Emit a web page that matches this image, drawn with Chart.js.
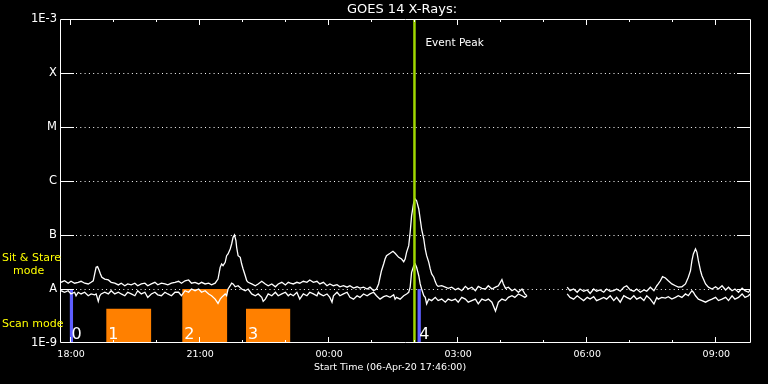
<!DOCTYPE html>
<html><head><meta charset="utf-8">
<script src="https://cdn.jsdelivr.net/npm/chart.js@4/dist/chart.umd.min.js"></script>
<style>html,body{margin:0;padding:0;background:#000;overflow:hidden}canvas{display:block}</style>
</head><body><canvas id="c" width="768" height="384"></canvas>
<script>
// ---------- DATA (time = minutes after 06-Apr-20 17:46:00, flux in W/m^2) ----------
const chartTitle = 'GOES 14 X-Rays:';
const xAxisTitle = 'Start Time (06-Apr-20 17:46:00)';
const eventLabel = 'Event Peak';
const modeLabelStare = ['Sit & Stare', 'mode'];
const modeLabelScan = 'Scan mode';

const xTickValues = [14, 194, 374, 554, 734, 914];
const xTickLabels = ['18:00', '21:00', '00:00', '03:00', '06:00', '09:00'];
const xMinorTickValues = [74, 134, 254, 314, 434, 494, 614, 674, 794, 854];
const yTickValues = [1e-9, 1e-8, 1e-7, 1e-6, 1e-5, 1e-4, 1e-3];
const yTickLabels = ['1E-9', 'A', 'B', 'C', 'M', 'X', '1E-3'];
const yGridValues = [1e-8, 1e-7, 1e-6, 1e-5, 1e-4];

const eventPeakTime = 493;

const barStart = [12, 63, 169, 258, 497];
const barEnd   = [17, 126, 232, 320, 502];
const barTop   = [1e-8, 4.3e-9, 1e-8, 4.3e-9, 1e-8];
const barNames = ['0', '1', '2', '3', '4'];

// long channel (upper curve)
const longChannel = [
[0,1.33e-8],[5,1.42e-8],[10,1.28e-8],[14,1.39e-8],[19,1.28e-8],[24,1.33e-8],[28,1.39e-8],[33,1.28e-8],[38,1.24e-8],[42,1.33e-8],
[45,1.42e-8],[47,1.90e-8],[49,2.52e-8],[51,2.59e-8],[53,2.25e-8],[55,1.90e-8],[57,1.65e-8],[61,1.53e-8],[66,1.47e-8],[70,1.33e-8],
[75,1.28e-8],[80,1.19e-8],[84,1.28e-8],[89,1.15e-8],[93,1.24e-8],[98,1.19e-8],[103,1.28e-8],[107,1.15e-8],[112,1.24e-8],[117,1.28e-8],
[121,1.15e-8],[126,1.24e-8],[131,1.33e-8],[135,1.20e-8],[140,1.28e-8],[145,1.24e-8],[149,1.19e-8],[154,1.28e-8],[159,1.33e-8],[164,1.39e-8],
[168,1.28e-8],[173,1.42e-8],[178,1.47e-8],[182,1.28e-8],[187,1.33e-8],[192,1.24e-8],[196,1.33e-8],[201,1.24e-8],[206,1.28e-8],[210,1.20e-8],
[215,1.28e-8],[219,1.53e-8],[222,2.52e-8],[224,2.90e-8],[226,2.70e-8],[229,3.12e-8],[231,4.14e-8],[233,4.45e-8],[236,5.51e-8],[238,6.81e-8],
[240,9.06e-8],[242,1.0e-7],[244,7.84e-8],[245,5.92e-8],[247,4.14e-8],[250,3.86e-8],[252,2.90e-8],[254,2.35e-8],[257,1.76e-8],[259,1.42e-8],
[261,1.33e-8],[266,1.24e-8],[271,1.15e-8],[275,1.24e-8],[280,1.39e-8],[285,1.24e-8],[289,1.15e-8],[294,1.24e-8],[299,1.10e-8],[303,1.24e-8],
[308,1.33e-8],[313,1.19e-8],[317,1.33e-8],[320,1.28e-8],[324,1.24e-8],[329,1.33e-8],[333,1.28e-8],[338,1.39e-8],[343,1.33e-8],[347,1.47e-8],
[352,1.33e-8],[357,1.39e-8],[361,1.24e-8],[366,1.33e-8],[371,1.15e-8],[375,1.24e-8],[380,1.15e-8],[385,1.20e-8],[389,1.10e-8],[394,1.15e-8],
[399,1.08e-8],[403,1.15e-8],[408,1.04e-8],[413,1.10e-8],[417,1.04e-8],[422,1.08e-8],[427,1.00e-8],[431,1.08e-8],[436,9.3e-9],[440,1.00e-8],
[443,1.24e-8],[445,1.65e-8],[447,2.18e-8],[450,2.90e-8],[452,3.59e-8],[454,4.14e-8],[459,4.58e-8],[463,4.99e-8],[466,4.58e-8],[471,3.86e-8],
[475,3.59e-8],[478,3.20e-8],[480,3.59e-8],[482,4.78e-8],[485,6.34e-8],[487,1.12e-7],[489,2.28e-7],[492,4.03e-7],[494,4.64e-7],[496,4.32e-7],
[499,3.03e-7],[501,1.98e-7],[503,1.29e-7],[506,8.43e-8],[508,5.51e-8],[510,4.14e-8],[513,3.12e-8],[515,2.35e-8],[517,1.90e-8],[520,1.65e-8],
[522,1.37e-8],[524,1.19e-8],[526,1.12e-8],[531,1.15e-8],[536,1.08e-8],[540,1.03e-8],[545,1.08e-8],[550,9.7e-9],[554,1.03e-8],[559,9.3e-9],
[564,1.12e-8],[568,1.00e-8],[573,1.08e-8],[578,9.3e-9],[582,1.12e-8],[587,1.03e-8],[592,1.00e-8],[596,1.15e-8],[601,1.00e-8],[606,1.08e-8],
[610,1.15e-8],[615,1.49e-8],[617,1.24e-8],[620,1.03e-8],[624,1.08e-8],[629,9.3e-9],[633,1.00e-8],[638,8.7e-9],[643,1.00e-8],[647,8.1e-9],
[650,7.5e-9],[680,null],
[706,1.08e-8],[710,9.3e-9],[715,1.00e-8],[720,8.7e-9],[724,1.00e-8],[729,9.1e-9],[734,9.6e-9],[738,8.3e-9],[743,1.00e-8],[747,9.1e-9],
[752,9.6e-9],[757,8.7e-9],[761,1.00e-8],[766,9.1e-9],[771,9.3e-9],[775,1.00e-8],[780,9.1e-9],[785,1.08e-8],[789,1.15e-8],[794,9.6e-9],
[799,9.1e-9],[803,1.00e-8],[808,8.7e-9],[813,9.6e-9],[817,9.1e-9],[822,1.08e-8],[827,9.3e-9],[831,1.15e-8],[833,1.24e-8],[836,1.42e-8],
[839,1.69e-8],[843,1.60e-8],[847,1.42e-8],[852,1.24e-8],[857,1.15e-8],[861,1.08e-8],[866,1.10e-8],[871,1.24e-8],[875,1.65e-8],[878,2.18e-8],
[880,3.34e-8],[882,4.45e-8],[885,5.51e-8],[887,4.78e-8],[889,3.34e-8],[892,2.18e-8],[894,1.76e-8],[896,1.53e-8],[899,1.24e-8],[903,1.08e-8],
[908,1.00e-8],[913,1.10e-8],[917,1.00e-8],[922,1.15e-8],[927,9.6e-9],[931,1.08e-8],[936,9.3e-9],[940,1.00e-8],[945,8.7e-9],[950,1.04e-8],
[954,9.3e-9],[959,8.7e-9],[961,9.6e-9]
];

// short channel (lower curve)
const shortChannel = [
[0,9.3e-9],[5,8.7e-9],[10,9.3e-9],[14,8.1e-9],[19,8.7e-9],[21,7.5e-9],[24,8.7e-9],[28,8.1e-9],[33,8.7e-9],[38,7.5e-9],
[42,8.1e-9],[47,7.8e-9],[49,8.1e-9],[52,5.9e-9],[54,7.5e-9],[56,8.1e-9],[61,8.7e-9],[66,8.1e-9],[70,9.3e-9],[75,8.1e-9],
[80,8.7e-9],[84,8.1e-9],[89,7.5e-9],[93,8.7e-9],[98,8.1e-9],[103,7.5e-9],[107,9.3e-9],[112,8.1e-9],[117,8.7e-9],[121,7.0e-9],
[126,8.1e-9],[131,8.7e-9],[135,7.8e-9],[140,7.5e-9],[145,8.7e-9],[149,8.1e-9],[154,7.5e-9],[159,8.7e-9],[164,8.7e-9],[168,7.5e-9],
[173,9.3e-9],[178,8.7e-9],[182,1.00e-8],[187,9.3e-9],[192,1.00e-8],[196,8.7e-9],[201,9.3e-9],[206,8.1e-9],[210,7.5e-9],[215,6.5e-9],
[219,5.4e-9],[222,6.5e-9],[224,7.0e-9],[229,8.1e-9],[231,7.5e-9],[233,1.00e-8],[236,1.15e-8],[238,1.28e-8],[240,1.24e-8],[243,1.10e-8],
[247,1.15e-8],[252,1.00e-8],[257,9.3e-9],[261,1.00e-8],[266,8.1e-9],[271,7.5e-9],[275,8.1e-9],[280,7.0e-9],[282,5.9e-9],[285,6.5e-9],
[289,8.1e-9],[294,7.5e-9],[299,8.7e-9],[303,7.5e-9],[308,8.1e-9],[313,8.7e-9],[317,7.5e-9],[320,8.1e-9],[324,7.5e-9],[329,8.7e-9],
[333,6.5e-9],[338,8.1e-9],[343,7.5e-9],[347,8.7e-9],[352,8.1e-9],[357,7.5e-9],[359,8.7e-9],[361,8.1e-9],[366,7.5e-9],[371,8.1e-9],
[375,7.0e-9],[378,5.7e-9],[380,7.5e-9],[385,8.7e-9],[389,7.5e-9],[394,8.1e-9],[399,8.7e-9],[403,7.0e-9],[408,6.5e-9],[413,7.5e-9],
[417,7.0e-9],[422,8.1e-9],[427,7.5e-9],[431,8.1e-9],[436,8.7e-9],[440,7.5e-9],[445,6.5e-9],[450,7.2e-9],[454,7.5e-9],[459,7.0e-9],
[464,7.8e-9],[466,6.5e-9],[468,7.0e-9],[473,6.5e-9],[478,7.5e-9],[482,8.1e-9],[485,8.7e-9],[487,1.08e-8],[489,2.04e-8],[492,2.70e-8],
[494,2.90e-8],[496,2.52e-8],[499,1.76e-8],[501,1.24e-8],[503,1.00e-8],[506,7.5e-9],[508,7.0e-9],[510,5.3e-9],[513,6.5e-9],[517,6.1e-9],
[522,7.0e-9],[526,6.1e-9],[531,6.5e-9],[536,5.7e-9],[540,6.5e-9],[545,6.1e-9],[550,6.5e-9],[554,5.7e-9],[559,7.0e-9],[564,6.5e-9],
[568,5.7e-9],[573,6.1e-9],[578,6.5e-9],[582,5.3e-9],[587,6.5e-9],[592,6.1e-9],[596,6.5e-9],[601,5.7e-9],[606,3.9e-9],[610,5.7e-9],
[615,6.5e-9],[620,6.1e-9],[624,7.0e-9],[629,7.5e-9],[633,7.0e-9],[638,8.1e-9],[643,7.5e-9],[647,7.0e-9],[650,7.5e-9],[680,null],
[706,8.1e-9],[710,7.0e-9],[715,6.5e-9],[720,7.5e-9],[724,6.8e-9],[729,6.1e-9],[734,7.0e-9],[738,6.5e-9],[743,7.2e-9],[747,6.1e-9],
[752,6.5e-9],[757,7.0e-9],[761,6.5e-9],[766,7.5e-9],[771,6.1e-9],[775,7.0e-9],[780,5.7e-9],[785,7.5e-9],[789,7.0e-9],[794,6.5e-9],
[799,7.5e-9],[803,6.5e-9],[808,7.0e-9],[813,6.1e-9],[817,7.5e-9],[822,6.5e-9],[827,5.3e-9],[831,7.0e-9],[833,6.5e-9],[838,7.0e-9],
[843,6.8e-9],[847,7.2e-9],[852,6.5e-9],[857,7.0e-9],[861,7.5e-9],[866,7.0e-9],[871,8.1e-9],[875,7.5e-9],[880,9.3e-9],[882,8.7e-9],
[885,7.5e-9],[889,6.5e-9],[894,6.1e-9],[899,5.7e-9],[903,6.1e-9],[908,6.5e-9],[913,7.0e-9],[917,6.1e-9],[922,6.5e-9],[927,7.0e-9],
[931,6.1e-9],[936,7.5e-9],[940,6.5e-9],[945,7.0e-9],[950,8.1e-9],[954,7.0e-9],[959,7.5e-9],[961,8.1e-9]
];

// ---------- STYLE ----------
const barColors = ['#5e5eff', '#ff8000', '#ff8000', '#ff8000', '#5e5eff'];
const eventColor = '#9fd800';
const FONT = '"DejaVu Sans", sans-serif';

const toXY = arr => arr.map(p => ({x: p[0], y: p[1]}));

const datasets = [];
barStart.forEach((s, i) => {
  datasets.push({
    data: [{x: s, y: 1e-9}, {x: s, y: barTop[i]}, {x: barEnd[i], y: barTop[i]}, {x: barEnd[i], y: 1e-9}],
    fill: 'start', backgroundColor: barColors[i], borderColor: 'rgba(0,0,0,0)', borderWidth: 0,
    pointRadius: 0, tension: 0, order: 5
  });
});
datasets.push({data: toXY(longChannel), borderColor: '#ffffff', borderWidth: 1.3, pointRadius: 0, tension: 0, fill: false, spanGaps: false, order: 2});
datasets.push({data: toXY(shortChannel), borderColor: '#ffffff', borderWidth: 1.3, pointRadius: 0, tension: 0, fill: false, spanGaps: false, order: 2});
datasets.push({data: [{x: eventPeakTime, y: 1e-9}, {x: eventPeakTime, y: 1e-3}], borderColor: eventColor, borderWidth: 2.5, pointRadius: 0, fill: false, order: 0});

const decor = {
  id: 'decor',
  beforeDraw(chart) {
    const c = chart.ctx; c.save(); c.fillStyle = '#000'; c.fillRect(0, 0, chart.width, chart.height); c.restore();
  },
  beforeDatasetsDraw(chart) {
    const {ctx, chartArea: a, scales: {y}} = chart;
    ctx.save(); ctx.strokeStyle = '#fff'; ctx.lineWidth = 1; ctx.setLineDash([1, 3.3]);
    yGridValues.forEach(v => {
      const py = Math.round(y.getPixelForValue(v)) + 0.5;
      ctx.beginPath(); ctx.moveTo(a.left + 15, py); ctx.lineTo(a.right - 14, py); ctx.stroke();
    });
    ctx.restore();
  },
  afterDatasetsDraw(chart) {
    const {ctx, chartArea: a, scales: {x, y}} = chart;
    ctx.save();
    ctx.strokeStyle = '#fff'; ctx.lineWidth = 1;
    ctx.beginPath();
    ctx.moveTo(a.left - 0.5, a.top + 0.5); ctx.lineTo(a.right + 0.5, a.top + 0.5);
    ctx.lineTo(a.right + 0.5, a.bottom - 0.5); ctx.lineTo(a.left - 0.5, a.bottom - 0.5); ctx.closePath();
    ctx.stroke();
    yGridValues.forEach(v => {
      const py = Math.round(y.getPixelForValue(v)) + 0.5;
      ctx.beginPath(); ctx.moveTo(a.left, py); ctx.lineTo(a.left + 13, py);
      ctx.moveTo(a.right - 13, py); ctx.lineTo(a.right, py); ctx.stroke();
    });
    const xt = (v, len) => {
      const px = Math.round(x.getPixelForValue(v)) - 0.5;
      ctx.beginPath(); ctx.moveTo(px, a.top); ctx.lineTo(px, a.top + len);
      ctx.moveTo(px, a.bottom); ctx.lineTo(px, a.bottom - len); ctx.stroke();
    };
    xTickValues.forEach(v => xt(v, 6));
    xMinorTickValues.forEach(v => xt(v, 3));
    ctx.fillStyle = '#fff'; ctx.font = '16px ' + FONT; ctx.textAlign = 'left'; ctx.textBaseline = 'alphabetic';
    barStart.forEach((s, i) => { ctx.fillText(barNames[i], x.getPixelForValue(s) + 2, a.bottom - 4); });
    ctx.font = '10.5px ' + FONT; ctx.textBaseline = 'middle';
    ctx.fillText(eventLabel, x.getPixelForValue(eventPeakTime) + 11, 43);
    ctx.font = '13px ' + FONT; ctx.textAlign = 'center';
    ctx.fillText(chartTitle, 402, 10);
    ctx.font = '9.5px ' + FONT;
    ctx.fillText(xAxisTitle, 390, 368);
    ctx.fillStyle = '#ffff00'; ctx.font = '11px ' + FONT; ctx.textAlign = 'left';
    ctx.fillText(modeLabelStare[0], 2, 258);
    ctx.fillText(modeLabelStare[1], 13, 271);
    ctx.fillText(modeLabelScan, 2, 324);
    ctx.restore();
  }
};

new Chart(document.getElementById('c'), {
  type: 'line',
  data: {datasets},
  options: {
    responsive: false, animation: false, events: [],
    layout: {padding: {top: 19, right: 18, left: 0, bottom: 0}},
    plugins: {legend: {display: false}, tooltip: {enabled: false}, title: {display: false}},
    scales: {
      x: {
        type: 'linear', min: 0, max: 961, position: 'bottom',
        grid: {display: false, drawTicks: false}, border: {display: false},
        ticks: {color: '#fff', font: {family: FONT, size: 9.5}, padding: 6, maxRotation: 0, autoSkip: false,
          callback: v => { const i = xTickValues.indexOf(v); return i >= 0 ? xTickLabels[i] : ''; }},
        afterBuildTicks: s => { s.ticks = xTickValues.map(v => ({value: v})); },
        afterFit: s => { s.height = 41; }
      },
      y: {
        type: 'logarithmic', min: 1e-9, max: 1e-3, position: 'left',
        grid: {display: false, drawTicks: false}, border: {display: false},
        ticks: {color: '#fff', font: {family: FONT, size: 11.5}, padding: 4, autoSkip: false,
          callback: v => { const i = yTickValues.findIndex(t => Math.abs(t - v) / t < 1e-6); return i >= 0 ? yTickLabels[i] : ''; }},
        afterBuildTicks: s => { s.ticks = yTickValues.map(v => ({value: v})); },
        afterFit: s => { s.width = 61; }
      }
    }
  },
  plugins: [decor]
});
</script>
</body></html>
